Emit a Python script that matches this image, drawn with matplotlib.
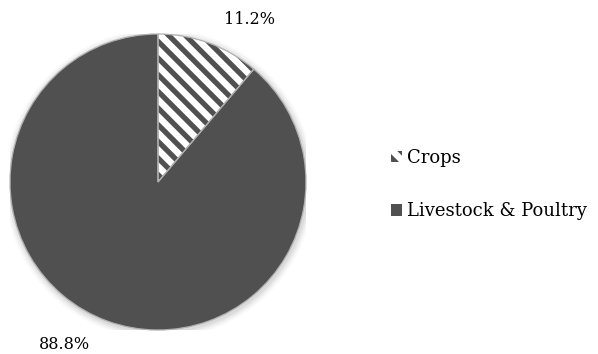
import matplotlib
matplotlib.use('Agg')
import matplotlib.pyplot as plt
from matplotlib.patches import Patch, Circle

matplotlib.rcParams['font.family'] = ['DejaVu Serif', 'Liberation Serif']
matplotlib.rcParams['hatch.linewidth'] = 3.8

categories = ['Crops', 'Livestock & Poultry']
shares = [11.2, 88.8]
label_pos = [(0.62, 1.10), (-0.63, -1.10)]

dark = '#505050'
edge = '#b0b0b0'


def main():
    fig = plt.figure(figsize=(5.98, 3.54), dpi=100)
    ax = fig.add_axes([10 / 598, 24 / 354, 296 / 598, 296 / 354])
    ax.set_xlim(-1, 1)
    ax.set_ylim(-1, 1)
    ax.axis('off')

    # soft shadow under the pie
    for i, a in enumerate([0.05, 0.04, 0.03, 0.02]):
        ax.add_patch(Circle((0.008, -0.012), 1.0 + 0.012 * (i + 1),
                            color='black', alpha=a, lw=0, zorder=0))

    wedges, _ = ax.pie(shares, startangle=90, counterclock=False, radius=1,
                       colors=['white', dark],
                       wedgeprops=dict(linewidth=0, edgecolor=dark),
                       normalize=True)
    wedges[0].set_hatch('\\\\')
    wedges[0].set_edgecolor(dark)
    for w in wedges:
        w.set_zorder(1)

    # thin light outline on top of the fills
    outline, _ = ax.pie(shares, startangle=90, counterclock=False, radius=1,
                        colors=['none', 'none'],
                        wedgeprops=dict(linewidth=0.9, edgecolor=edge, fill=False))
    for w in outline:
        w.set_zorder(2)
    ax.set_xlim(-1, 1)
    ax.set_ylim(-1, 1)
    ax.set_aspect('auto')

    for v, (x, y) in zip(shares, label_pos):
        ax.text(x, y, '%.1f%%' % v, ha='center', va='center', fontsize=11.5)

    handles = [Patch(facecolor='white', edgecolor=dark, hatch='\\\\', lw=0),
               Patch(facecolor=dark, edgecolor=dark, lw=0)]
    fig.legend(handles, categories, loc='upper left',
               bbox_to_anchor=(391 / 598, 1 - 149 / 354), frameon=False,
               fontsize=13, handlelength=0.6, handleheight=0.6,
               handletextpad=0.3, labelspacing=1.95, borderpad=0,
               borderaxespad=0)

    plt.savefig('out.png', dpi=100)


if __name__ == '__main__':
    main()
